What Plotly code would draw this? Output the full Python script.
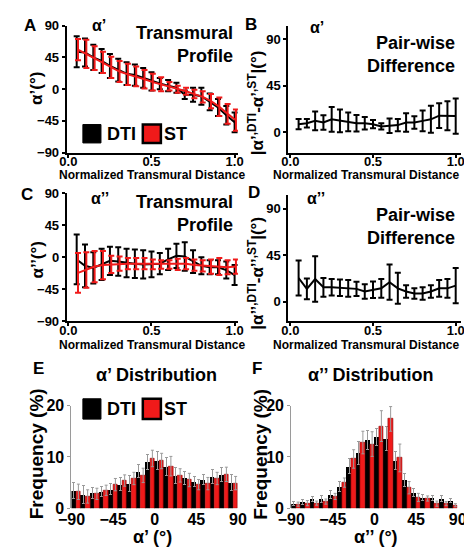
import plotly.graph_objects as go

W, H = 472, 549
FONT = "Liberation Sans, Arial, sans-serif"
BLACK = "#000000"
RED = "#f01a1a"
GREY = "#9a9a9a"

# ---------------- data ----------------
depth = [0.05, 0.10, 0.15, 0.20, 0.25, 0.30, 0.35, 0.40, 0.45, 0.50,
         0.55, 0.60, 0.65, 0.70, 0.75, 0.80, 0.85, 0.90, 0.95, 1.00]

a1_dti = [53, 52, 45, 40, 33, 27, 22, 20, 16, 11, 8, 5, 2, -8, -8, -10, -18, -26, -37, -47]
a1_dti_err = [22, 20, 18, 17, 17, 16, 16, 15, 14, 13, 8, 8, 7, 6, 10, 12, 12, 12, 13, 14]
a1_st = [56, 50, 44, 38, 31, 25, 21, 18, 14, 10, 7, 4, 0, -3, -7, -11, -17, -25, -35, -44]
a1_st_err = [15, 20, 17, 15, 15, 15, 15, 14, 13, 12, 10, 6, 5, 5, 6, 8, 10, 13, 14, 15]

a1_diff = [7.8, 8.7, 11, 9.4, 12.5, 11, 10, 8.7, 8.7, 7.8, 5.6, 6.3, 6.9, 9.4, 9.4, 11, 12.5, 16, 16, 15.6]
a1_diff_err = [5, 4, 9, 7, 12, 11, 9, 8, 6, 4, 3, 7, 6, 9, 6, 10, 13, 12, 14, 17]

a2_dti = [-3, -12, -15, -10, -5, -6, -8, -9, -10, -10, -9, -3, 2, 1, -6, -12, -14, -14, -18, -25]
a2_dti_err = [35, 30, 22, 22, 20, 20, 20, 20, 20, 18, 15, 15, 17, 20, 16, 12, 10, 10, 12, 14]
a2_st = [-22, -18, -13, -11, -10, -9, -9, -9, -9, -10, -10, -10, -10, -9, -11, -12, -13, -13, -14, -13]
a2_st_err = [28, 25, 22, 20, 12, 10, 8, 8, 8, 7, 6, 6, 8, 8, 8, 8, 10, 12, 10, 10]

a2_diff = [23, 12.5, 22, 14, 14, 13.5, 13, 12.5, 10, 11.6, 13, 19, 13, 10, 8, 8, 10, 13, 13, 15.6]
a2_diff_err = [17, 10, 22, 9, 8, 8, 8, 7, 7, 8, 9, 17, 15, 6, 5, 6, 6, 8, 9, 17]

bins = [-85, -75, -65, -55, -45, -35, -25, -15, -5, 5, 15, 25, 35, 45, 55, 65, 75, 85]

e_dti = [3.5, 2.7, 3.0, 3.2, 3.7, 4.7, 4.8, 7.2, 9.0, 9.3, 8.1, 6.4, 5.9, 5.2, 5.6, 6.2, 6.6, 5.0]
e_dti_err = [1.5, 1.8, 1.1, 1.0, 1.1, 1.3, 1.5, 1.3, 1.5, 1.8, 1.7, 1.6, 1.2, 1.0, 1.0, 1.4, 1.3, 1.5]
e_st = [3.2, 2.3, 2.8, 3.5, 4.6, 5.4, 5.8, 6.4, 9.7, 9.2, 8.2, 6.4, 5.5, 4.6, 4.8, 5.8, 6.6, 4.9]
e_st_err = [1.5, 1.3, 1.1, 1.0, 1.2, 1.1, 1.2, 1.4, 1.6, 1.5, 1.9, 1.3, 1.3, 1.0, 1.2, 1.2, 1.4, 1.3]

f_dti = [1.0, 1.3, 1.8, 1.8, 2.7, 4.3, 8.2, 10.8, 13.3, 13.9, 13.6, 9.3, 5.5, 3.0, 2.1, 2.0, 1.9, 1.5]
f_dti_err = [0.4, 0.5, 0.5, 0.6, 0.8, 1.0, 1.5, 2.2, 1.8, 1.7, 2.3, 1.8, 1.3, 0.8, 0.6, 0.5, 0.5, 0.4]
f_st = [0.8, 1.0, 1.0, 1.3, 2.3, 5.0, 9.6, 12.8, 12.5, 16.0, 17.4, 9.8, 4.0, 2.1, 1.9, 0.9, 0.9, 0.6]
f_st_err = [0.4, 0.5, 0.4, 0.5, 0.6, 0.9, 1.8, 2.2, 2.4, 3.0, 2.4, 2.7, 1.2, 0.8, 0.5, 0.5, 0.4, 0.3]

profile_ticks = [-90, -45, 0, 45, 90]
diff_ticks = [0, 45, 90]
depth_ticks = [0.0, 0.5, 1.0]
depth_ticktext = ["0.0", "0.5", "1.0"]
freq_ticks = [0, 10, 20]
angle_ticks = [-90, -45, 0, 45, 90]


# ---------------- helpers ----------------
def xd(a, b):
    return [a / W, b / W]


def yd(top, bottom):
    return [1 - bottom / H, 1 - top / H]


def px(x):
    return x / W


def py(y):
    return 1 - y / H


fig = go.Figure()

red_shift = 0.008


def line_pair(xa, ya, dti, dti_err, st, st_err):
    fig.add_trace(go.Scatter(
        x=depth, y=dti, mode="lines", name="DTI", showlegend=False,
        line=dict(color=BLACK, width=2),
        error_y=dict(type="data", array=dti_err, color=BLACK, thickness=2, width=3),
        xaxis=xa, yaxis=ya))
    fig.add_trace(go.Scatter(
        x=[d + red_shift for d in depth], y=st, mode="lines", name="ST", showlegend=False,
        line=dict(color=RED, width=2),
        error_y=dict(type="data", array=st_err, color=RED, thickness=2, width=3),
        xaxis=xa, yaxis=ya))


def diff_line(xa, ya, vals, err):
    fig.add_trace(go.Scatter(
        x=depth, y=vals, mode="lines", showlegend=False,
        line=dict(color=BLACK, width=2),
        error_y=dict(type="data", array=err, color=BLACK, thickness=2, width=3),
        xaxis=xa, yaxis=ya))


def bars(xa, ya, dti, dti_err, st, st_err):
    fig.add_trace(go.Bar(
        x=bins, y=dti, name="DTI", showlegend=False, offsetgroup="dti",
        marker=dict(color=BLACK, line=dict(width=0)),
        error_y=dict(type="data", array=dti_err, color=GREY, thickness=1, width=1.5),
        xaxis=xa, yaxis=ya))
    fig.add_trace(go.Bar(
        x=bins, y=st, name="ST", showlegend=False, offsetgroup="st",
        marker=dict(color=RED, line=dict(color="#8a0000", width=0.6)),
        error_y=dict(type="data", array=st_err, color=GREY, thickness=1, width=1.5),
        xaxis=xa, yaxis=ya))


line_pair("x", "y", a1_dti, a1_dti_err, a1_st, a1_st_err)
diff_line("x2", "y2", a1_diff, a1_diff_err)
line_pair("x3", "y3", a2_dti, a2_dti_err, a2_st, a2_st_err)
diff_line("x4", "y4", a2_diff, a2_diff_err)
bars("x5", "y5", e_dti, e_dti_err, e_st, e_st_err)
bars("x6", "y6", f_dti, f_dti_err, f_st, f_st_err)

tickfont = dict(family=FONT, size=13, color=BLACK, weight="bold")
bigtick = dict(family=FONT, size=16, color=BLACK, weight="bold")

common = dict(showgrid=False, zeroline=False, showline=True, linecolor=BLACK,
              linewidth=2, ticks="outside", ticklen=3, tickwidth=2, tickcolor=BLACK,
              tickfont=tickfont)

xdep = dict(common, tickvals=depth_ticks, ticktext=depth_ticktext, ticklabelstandoff=-7)

layout = dict(
    width=W, height=H, margin=dict(l=0, r=0, t=0, b=0),
    paper_bgcolor="white", plot_bgcolor="white",
    barmode="group", bargap=0, bargroupgap=0, showlegend=False,
    font=dict(family=FONT, color=BLACK),
    xaxis=dict(xdep, domain=xd(47, 227), range=[-0.01, 1.02], anchor="y"),
    yaxis=dict(common, domain=yd(10, 141), range=[-90, 90], tickvals=profile_ticks, anchor="x"),
    xaxis2=dict(xdep, domain=xd(280, 462), range=[-0.012, 1.035], anchor="y2"),
    yaxis2=dict(common, domain=yd(10, 141), range=[-19.7, 103], tickvals=diff_ticks, anchor="x2"),
    xaxis3=dict(xdep, domain=xd(47, 227), range=[-0.01, 1.02], anchor="y3"),
    yaxis3=dict(common, domain=yd(183, 315), range=[-90, 90], tickvals=profile_ticks, anchor="x3"),
    xaxis4=dict(xdep, domain=xd(280, 462), range=[-0.012, 1.035], anchor="y4"),
    yaxis4=dict(common, domain=yd(185, 315), range=[-18.8, 103], tickvals=diff_ticks, anchor="x4"),
    xaxis5=dict(showgrid=False, zeroline=False, showline=False, ticks="", tickvals=angle_ticks,
                tickfont=bigtick, domain=xd(52, 227), range=[-90, 90], anchor="y5"),
    yaxis5=dict(showgrid=False, zeroline=False, showline=True, linecolor=GREY, linewidth=1,
                ticks="outside", ticklen=3, tickcolor=GREY, tickvals=freq_ticks, tickfont=bigtick,
                domain=yd(402, 508), range=[0, 20], anchor="x5"),
    xaxis6=dict(showgrid=False, zeroline=False, showline=False, ticks="", tickvals=angle_ticks,
                tickfont=bigtick, domain=xd(283, 458), range=[-90, 90], anchor="y6"),
    yaxis6=dict(showgrid=False, zeroline=False, showline=True, linecolor=GREY, linewidth=1,
                ticks="outside", ticklen=3, tickcolor=GREY, tickvals=freq_ticks, tickfont=bigtick,
                domain=yd(402, 508), range=[0, 20], anchor="x6"),
)
fig.update_layout(**layout)

ann = []


def text(x, y, s, size, xanchor="center", yanchor="middle", angle=0, align="center"):
    ann.append(dict(x=px(x), y=py(y), xref="paper", yref="paper", text=s, showarrow=False,
                    xanchor=xanchor, yanchor=yanchor, textangle=angle, align=align,
                    font=dict(family=FONT, size=size, color=BLACK, weight="bold")))


# panel letters
text(8, 10, "A", 17)
text(241, 9, "B", 17)
text(5, 184, "C", 17)
text(244, 182, "D", 17)
text(17, 364, "E", 17)
text(247, 364, "F", 17)

# small alpha labels
text(81, 10, "α’", 16)
text(310, 12, "α’", 16)
text(82, 188, "α’’", 16)
text(309, 188, "α’’", 16)

# panel headers
text(224, 5, "Transmural<br>Profile", 18, xanchor="right", yanchor="top", align="right")
text(457, 15, "Pair-wise<br>Difference", 18, xanchor="right", yanchor="top", align="right")
text(224, 180, "Transmural<br>Profile", 18, xanchor="right", yanchor="top", align="right")
text(457, 193, "Pair-wise<br>Difference", 18, xanchor="right", yanchor="top", align="right")

# axis titles
text(15, 75, "α’(°)", 17, angle=-90)
text(246, 90, "|α’<sup>,DTI</sup>-α’<sup>,ST</sup>|(°)", 17, angle=-90)
text(16, 252, "α’’(°)", 17, angle=-90)
text(246, 266, "|α’’<sup>,DTI</sup>-α’’<sup>,ST</sup>|(°)", 17, angle=-90)
text(137, 164, "Normalized Transmural Distance", 12)
text(362, 164, "Normalized Transmural Distance", 12)
text(137, 339, "Normalized Transmural Distance", 12)
text(362, 339, "Normalized Transmural Distance", 12)

text(141, 370, "α’ Distribution", 18)
text(366, 370, "α’’ Distribution", 18)
text(137, 538, "α’ (°)", 18)
text(372, 538, "α’’ (°)", 18)
text(15, 452, "Frequency (%)", 19, angle=-90)
text(250, 452, "Frequency (%)", 19, angle=-90)

# legends (A and E)
shapes = []


def legend(y0, y1):
    shapes.append(dict(type="rect", xref="paper", yref="paper",
                       x0=px(64), x1=px(83), y0=py(y1), y1=py(y0),
                       fillcolor=BLACK, line=dict(color=BLACK, width=1)))
    shapes.append(dict(type="rect", xref="paper", yref="paper",
                       x0=px(127), x1=px(146), y0=py(y1), y1=py(y0),
                       fillcolor=RED, line=dict(color=BLACK, width=2.5)))
    text(87, (y0 + y1) / 2, "DTI", 18, xanchor="left")
    text(147, (y0 + y1) / 2, "ST", 18, xanchor="left")


legend(112, 131)
legend(395, 416)

fig.update_layout(annotations=ann, shapes=shapes)
fig.write_html("out.html")
